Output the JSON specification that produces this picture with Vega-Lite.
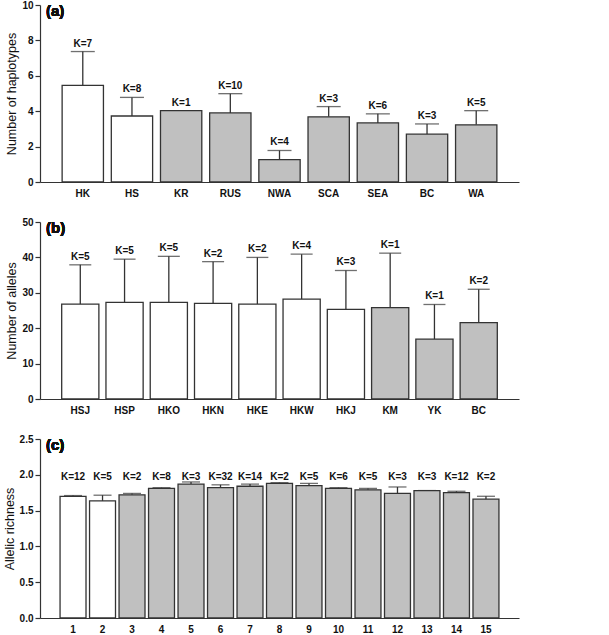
{
  "$schema": "https://vega.github.io/schema/vega-lite/v6.json",
  "padding": {"left": 3, "top": 0, "right": 5, "bottom": 5},
  "spacing": 40,
  "bounds": "flush",
  "config": {
    "view": {"stroke": null},
    "font": "Liberation Sans",
    "axis": {"grid": false, "labelOverlap": false, "labelBound": false, "domainColor": "#333333", "tickColor": "#333333", "labelColor": "#111111", "labelFont": "Liberation Sans", "labelFontWeight": "bold", "labelFontSize": 10, "titleFont": "Liberation Sans", "titleFontWeight": "normal", "titleFontSize": 12.5, "titleColor": "#111111", "domainWidth": 1.2, "tickWidth": 1.2},
    "axisX": {"ticks": false, "labelAngle": 0, "labelPadding": 6, "title": null},
    "axisY": {"tickSize": 5, "labelPadding": 2, "titlePadding": 3}
  },
  "datasets": {
    "a": [
      {"pop": "HK", "type": "open", "mean": 5.46, "top": 7.37, "K": "K=7"},
      {"pop": "HS", "type": "open", "mean": 3.73, "top": 4.78, "K": "K=8"},
      {"pop": "KR", "type": "filled", "mean": 4.03, "top": 4.03, "K": "K=1"},
      {"pop": "RUS", "type": "filled", "mean": 3.9, "top": 4.99, "K": "K=10"},
      {"pop": "NWA", "type": "filled", "mean": 1.26, "top": 1.78, "K": "K=4"},
      {"pop": "SCA", "type": "filled", "mean": 3.68, "top": 4.26, "K": "K=3"},
      {"pop": "SEA", "type": "filled", "mean": 3.34, "top": 3.85, "K": "K=6"},
      {"pop": "BC", "type": "filled", "mean": 2.7, "top": 3.28, "K": "K=3"},
      {"pop": "WA", "type": "filled", "mean": 3.23, "top": 4.03, "K": "K=5"}
    ],
    "b": [
      {"pop": "HSJ", "type": "open", "mean": 26.8, "top": 37.9, "K": "K=5"},
      {"pop": "HSP", "type": "open", "mean": 27.3, "top": 39.5, "K": "K=5"},
      {"pop": "HKO", "type": "open", "mean": 27.3, "top": 40.3, "K": "K=5"},
      {"pop": "HKN", "type": "open", "mean": 27.0, "top": 38.8, "K": "K=2"},
      {"pop": "HKE", "type": "open", "mean": 26.8, "top": 40.0, "K": "K=2"},
      {"pop": "HKW", "type": "open", "mean": 28.2, "top": 40.9, "K": "K=4"},
      {"pop": "HKJ", "type": "open", "mean": 25.3, "top": 36.3, "K": "K=3"},
      {"pop": "KM", "type": "filled", "mean": 25.8, "top": 41.2, "K": "K=1"},
      {"pop": "YK", "type": "filled", "mean": 16.9, "top": 26.7, "K": "K=1"},
      {"pop": "BC", "type": "filled", "mean": 21.6, "top": 31.0, "K": "K=2"}
    ],
    "c": [
      {"pop": "1", "type": "open", "mean": 1.70, "top": 1.71, "K": "K=12"},
      {"pop": "2", "type": "open", "mean": 1.635, "top": 1.715, "K": "K=5"},
      {"pop": "3", "type": "filled", "mean": 1.72, "top": 1.74, "K": "K=2"},
      {"pop": "4", "type": "filled", "mean": 1.81, "top": 1.82, "K": "K=8"},
      {"pop": "5", "type": "filled", "mean": 1.87, "top": 1.90, "K": "K=3"},
      {"pop": "6", "type": "filled", "mean": 1.82, "top": 1.86, "K": "K=32"},
      {"pop": "7", "type": "filled", "mean": 1.84, "top": 1.87, "K": "K=14"},
      {"pop": "8", "type": "filled", "mean": 1.88, "top": 1.89, "K": "K=2"},
      {"pop": "9", "type": "filled", "mean": 1.85, "top": 1.88, "K": "K=5"},
      {"pop": "10", "type": "filled", "mean": 1.81, "top": 1.82, "K": "K=6"},
      {"pop": "11", "type": "filled", "mean": 1.79, "top": 1.81, "K": "K=5"},
      {"pop": "12", "type": "filled", "mean": 1.74, "top": 1.83, "K": "K=3"},
      {"pop": "13", "type": "filled", "mean": 1.78, "top": 1.78, "K": "K=3"},
      {"pop": "14", "type": "filled", "mean": 1.75, "top": 1.77, "K": "K=12"},
      {"pop": "15", "type": "filled", "mean": 1.66, "top": 1.70, "K": "K=2"}
    ]
  },
  "vconcat": [
    {
      "width": 479, "height": 177,
      "data": {"name": "a"},
      "encoding": {
        "x": {"field": "pop", "type": "nominal", "sort": null, "scale": {"paddingInner": 0.16, "paddingOuter": 0.45}},
        "y": {"field": "mean", "type": "quantitative", "scale": {"domain": [0, 10]}, "axis": {"values": [0, 2, 4, 6, 8, 10], "labelOverlap": false, "title": "Number of haplotypes"}}
      },
      "layer": [
        {"mark": {"type": "rule", "color": "#333333", "strokeWidth": 1.3},
         "encoding": {"y2": {"field": "top"}}},
        {"mark": {"type": "tick", "color": "#333333", "thickness": 1.3, "size": 24},
         "encoding": {"y": {"field": "top", "type": "quantitative"}}},
        {"mark": {"type": "bar", "stroke": "#333333", "strokeWidth": 1.3},
         "encoding": {"fill": {"field": "type", "type": "nominal", "scale": {"domain": ["open", "filled"], "range": ["#ffffff", "#c0c0c0"]}, "legend": null}}},
        {"mark": {"type": "text", "baseline": "bottom", "dy": -3, "fontWeight": "bold", "fontSize": 10, "color": "#111111"},
         "encoding": {"y": {"field": "top", "type": "quantitative"}, "text": {"field": "K"}}},
        {"mark": {"type": "text", "align": "left", "baseline": "top", "fontWeight": "bold", "fontSize": 15, "dx": 6, "dy": -1, "color": "#111111", "text": "(a)"},
         "encoding": {"x": {"value": 0}, "y": {"value": 0}}}
      ]
    },
    {
      "width": 479, "height": 177,
      "data": {"name": "b"},
      "encoding": {
        "x": {"field": "pop", "type": "nominal", "sort": null, "scale": {"paddingInner": 0.16, "paddingOuter": 0.49}},
        "y": {"field": "mean", "type": "quantitative", "scale": {"domain": [0, 50]}, "axis": {"values": [0, 10, 20, 30, 40, 50], "labelOverlap": false, "title": "Number of alleles"}}
      },
      "layer": [
        {"mark": {"type": "rule", "color": "#333333", "strokeWidth": 1.3},
         "encoding": {"y2": {"field": "top"}}},
        {"mark": {"type": "tick", "color": "#333333", "thickness": 1.3, "size": 22},
         "encoding": {"y": {"field": "top", "type": "quantitative"}}},
        {"mark": {"type": "bar", "stroke": "#333333", "strokeWidth": 1.3},
         "encoding": {"fill": {"field": "type", "type": "nominal", "scale": {"domain": ["open", "filled"], "range": ["#ffffff", "#c0c0c0"]}, "legend": null}}},
        {"mark": {"type": "text", "baseline": "bottom", "dy": -3, "fontWeight": "bold", "fontSize": 10, "color": "#111111"},
         "encoding": {"y": {"field": "top", "type": "quantitative"}, "text": {"field": "K"}}},
        {"mark": {"type": "text", "align": "left", "baseline": "top", "fontWeight": "bold", "fontSize": 15, "dx": 6, "dy": -1, "color": "#111111", "text": "(b)"},
         "encoding": {"x": {"value": 0}, "y": {"value": 0}}}
      ]
    },
    {
      "width": 479, "height": 179,
      "data": {"name": "c"},
      "encoding": {
        "x": {"field": "pop", "type": "nominal", "sort": null, "scale": {"paddingInner": 0.12, "paddingOuter": 0.68}},
        "y": {"field": "mean", "type": "quantitative", "scale": {"domain": [0, 2.5]}, "axis": {"values": [0, 0.5, 1, 1.5, 2, 2.5], "format": ".1f", "labelOverlap": false, "title": "Allelic richness"}}
      },
      "layer": [
        {"mark": {"type": "rule", "color": "#333333", "strokeWidth": 1.3},
         "encoding": {"y2": {"field": "top"}}},
        {"mark": {"type": "tick", "color": "#333333", "thickness": 1.3, "size": 18},
         "encoding": {"y": {"field": "top", "type": "quantitative"}}},
        {"mark": {"type": "bar", "stroke": "#333333", "strokeWidth": 1.3},
         "encoding": {"fill": {"field": "type", "type": "nominal", "scale": {"domain": ["open", "filled"], "range": ["#ffffff", "#c0c0c0"]}, "legend": null}}},
        {"mark": {"type": "text", "baseline": "middle", "fontWeight": "bold", "fontSize": 10, "color": "#111111"},
         "encoding": {"y": {"datum": 1.97}, "text": {"field": "K"}}},
        {"mark": {"type": "text", "align": "left", "baseline": "top", "fontWeight": "bold", "fontSize": 15, "dx": 6, "dy": -1, "color": "#111111", "text": "(c)"},
         "encoding": {"x": {"value": 0}, "y": {"value": 0}}}
      ]
    }
  ]
}
